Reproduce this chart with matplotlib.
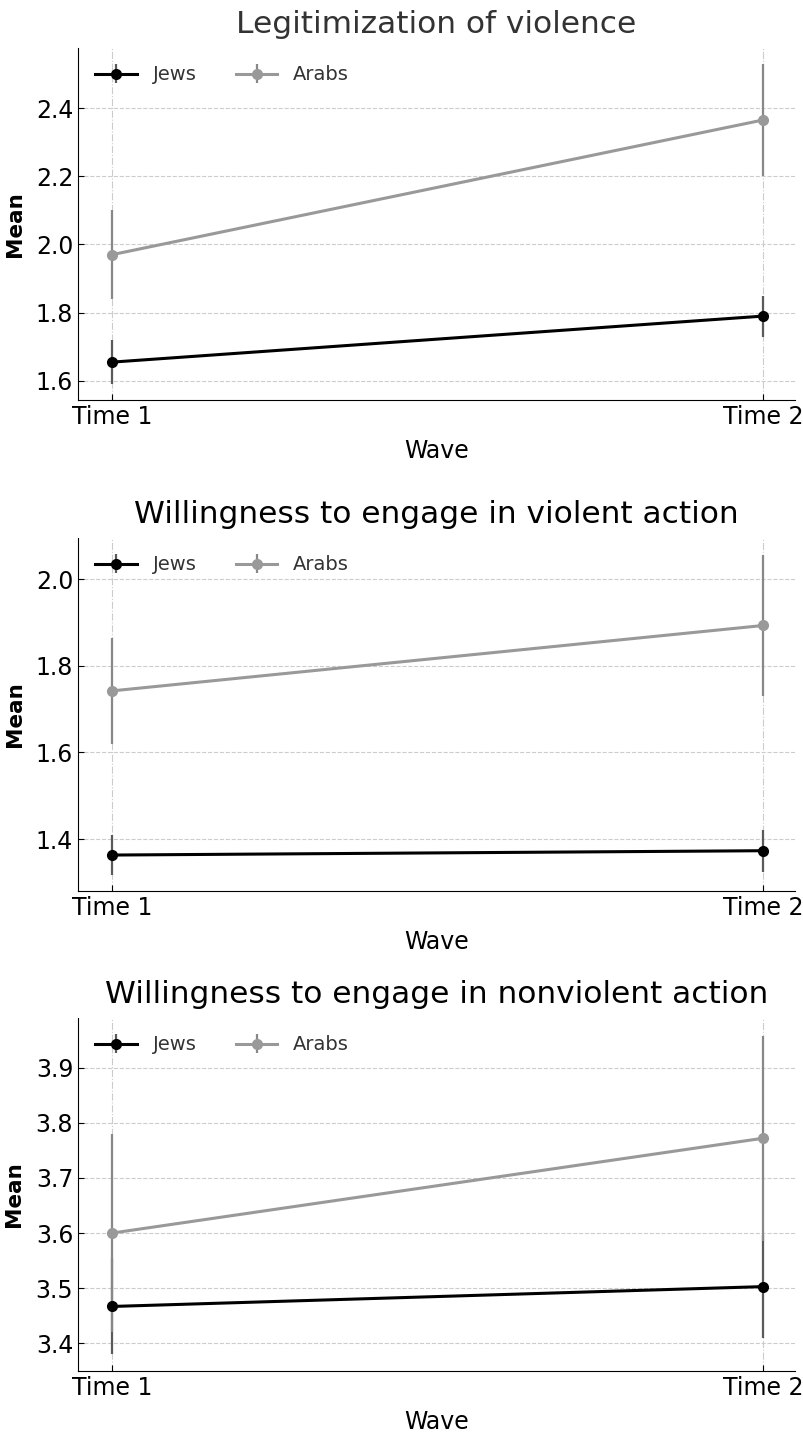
import matplotlib
matplotlib.use("Agg")
import matplotlib.pyplot as plt

waves = ["Time 1", "Time 2"]
titles = [
    "Legitimization of violence",
    "Willingness to engage in violent action",
    "Willingness to engage in nonviolent action",
]

jews_mean = [[1.655, 1.790], [1.363, 1.373], [3.467, 3.503]]
jews_err = [[0.065, 0.060], [0.047, 0.048], [0.087, 0.093]]
arabs_mean = [[1.970, 2.365], [1.742, 1.893], [3.600, 3.772]]
arabs_err = [[0.130, 0.165], [0.122, 0.162], [0.180, 0.186]]

ylims = [(1.544, 2.576), (1.28, 2.095), (3.35, 3.99)]
yticks = [[1.6, 1.8, 2.0, 2.2, 2.4], [1.4, 1.6, 1.8, 2.0], [3.4, 3.5, 3.6, 3.7, 3.8, 3.9]]

plt.rcParams["font.family"] = "DejaVu Sans"

fig = plt.figure(figsize=(8.04, 14.34), dpi=100)
W, H = 804, 1434
tops = [48, 538, 1018]
bottoms = [400, 891, 1371]

x = [0, 1]
for i in range(3):
    ax = fig.add_axes([78 / W, 1 - bottoms[i] / H, (795 - 78) / W, (bottoms[i] - tops[i]) / H])
    ax.errorbar(x, jews_mean[i], yerr=jews_err[i], color="black", ecolor="#5a5a5a",
                marker="o", markersize=7, linewidth=2.2, elinewidth=1.6, label="Jews")
    ax.errorbar(x, arabs_mean[i], yerr=arabs_err[i], color="#999999", ecolor="#888888",
                marker="o", markersize=7, linewidth=2.2, elinewidth=1.6, label="Arabs")
    ax.set_xticks(x)
    ax.set_xticklabels(waves)
    ax.set_xlim(-0.052, 1.049)
    ax.set_ylim(*ylims[i])
    ax.set_yticks(yticks[i])
    ax.set_yticklabels([f"{v:.1f}" for v in yticks[i]])
    ax.set_title(titles[i], fontsize=22.5, color="#333333" if i == 0 else "black", pad=11)
    ax.set_xlabel("Wave", fontsize=17, labelpad=7)
    ax.set_ylabel("Mean", fontsize=15.5, fontweight="bold", labelpad=8)
    ax.tick_params(axis="both", labelsize=17, direction="in", length=4)
    ax.spines["top"].set_visible(False)
    ax.spines["right"].set_visible(False)
    ax.grid(axis="y", linestyle="--", color="#cccccc", linewidth=0.8)
    ax.grid(axis="x", linestyle="-.", color="#cccccc", linewidth=0.8)
    ax.set_axisbelow(True)
    leg = ax.legend(loc="upper left", ncol=2, frameon=False, fontsize=14, handlelength=2.15,
                    columnspacing=2.0, borderaxespad=0.5)
    for t in leg.get_texts():
        t.set_color("#333333")

fig.savefig("out.png", dpi=100)
